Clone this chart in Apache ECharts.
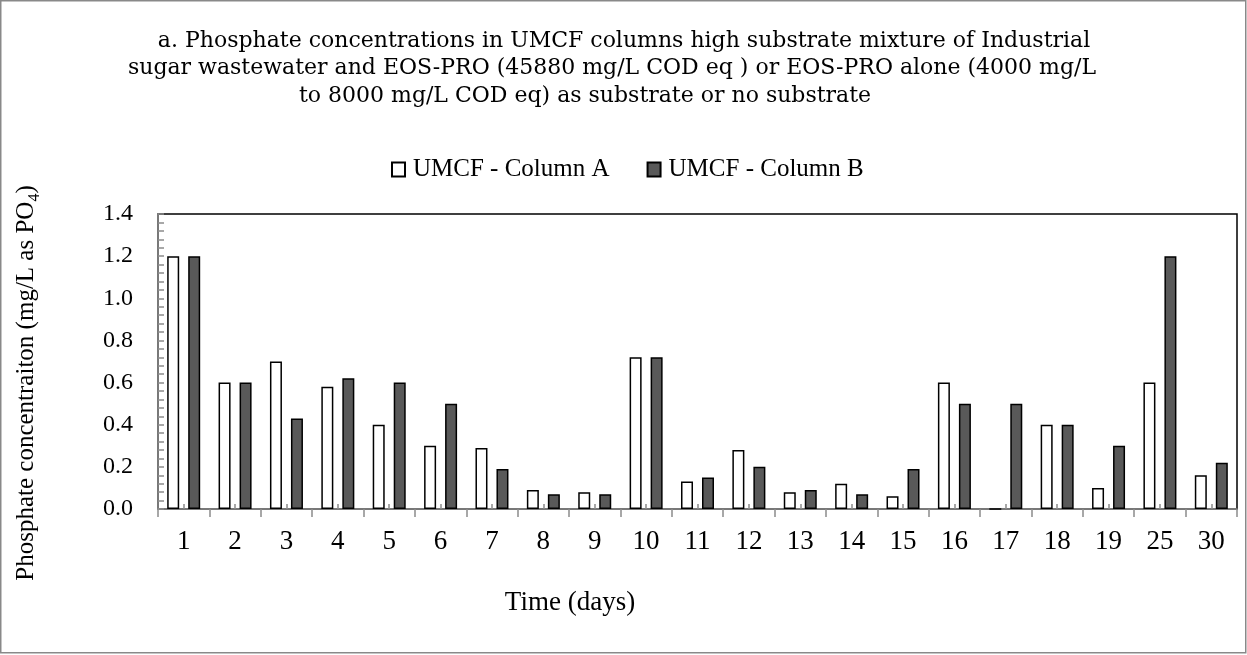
<!DOCTYPE html>
<html>
<head>
<meta charset="utf-8">
<script src="https://cdn.jsdelivr.net/npm/echarts@6/dist/echarts.min.js"></script>
<style>html,body{margin:0;padding:0;background:#fff;}#c{width:1247px;height:655px;}</style>
</head>
<body>
<div id="c"></div>
<script>
const days = ['1','2','3','4','5','6','7','8','9','10','11','12','13','14','15','16','17','18','19','25','30'];
const columnA = [1.20,0.60,0.70,0.58,0.40,0.30,0.29,0.09,0.08,0.72,0.13,0.28,0.08,0.12,0.06,0.60,0,0.40,0.10,0.60,0.16];
const columnB = [1.20,0.60,0.43,0.62,0.60,0.50,0.19,0.07,0.07,0.72,0.15,0.20,0.09,0.07,0.19,0.50,0.50,0.40,0.30,1.20,0.22];
const yTicks = [0,0.2,0.4,0.6,0.8,1.0,1.2,1.4];
const titleLines = [
  'a. Phosphate concentrations in UMCF columns high substrate mixture of Industrial',
  'sugar wastewater and EOS-PRO (45880 mg/L COD eq ) or EOS-PRO alone (4000 mg/L',
  'to 8000 mg/L COD eq) as substrate or no substrate'
];
const seriesNames = ['UMCF - Column A','UMCF - Column B'];

const FONT = '"Liberation Serif", "DejaVu Serif", serif';
const TFONT = '"DejaVu Serif", serif';
const chart = echarts.init(document.getElementById('c'), null, {renderer:'canvas'});
const titleX = [624, 612, 585];
const titleTop = [30, 57, 85];
chart.setOption({
  animation: false,
  backgroundColor: '#fff',
  title: titleLines.map((t,i)=>({
    text: t, left: titleX[i], top: titleTop[i], textAlign: 'center', padding: 0,
    textStyle: {fontFamily: TFONT, fontSize: 22, fontWeight: 'normal', color: '#000'}
  })),
  legend: {
    left: 391, top: 157, padding: 0, itemWidth: 13, itemHeight: 14, itemGap: 37, icon: 'rect',
    textStyle: {fontFamily: FONT, fontSize: 25, color: '#000', padding: [0,0,0,3]},
    data: seriesNames
  },
  grid: {left: 158, right: 10, top: 214, bottom: 146, show: true, borderColor: '#000', borderWidth: 1.5, backgroundColor: 'transparent'},
  xAxis: [{
    type: 'category', data: days, boundaryGap: true,
    axisLine: {lineStyle: {color: '#8c8c8c', width: 1.5}},
    axisTick: {show: true, inside: false, length: 8, lineStyle: {color: '#8c8c8c', width: 1.5}},
    axisLabel: {fontFamily: FONT, fontSize: 27, color: '#000', margin: 19, interval: 0}
  },{
    type: 'category', data: days, boundaryGap: true, position: 'bottom', offset: 0,
    axisLine: {show: false},
    axisTick: {show: true, inside: true, alignWithLabel: true, length: 5, lineStyle: {color: '#8c8c8c', width: 1.5}},
    axisLabel: {show: false}
  }],
  yAxis: {
    type: 'value', min: yTicks[0], max: yTicks[yTicks.length-1], interval: 0.2,
    axisLine: {show: true, lineStyle: {color: '#8c8c8c', width: 1.5}},
    axisTick: {show: true, inside: true, length: 6, lineStyle: {color: '#8c8c8c', width: 1.5}},
    minorTick: {show: true, splitNumber: 5, length: 6, lineStyle: {color: '#8c8c8c', width: 1.5}},
    splitLine: {show: false},
    axisLabel: {fontFamily: FONT, fontSize: 24, color: '#000', margin: 25, formatter: v => v.toFixed(1)}
  },
  graphic: [
    {type: 'rect', shape: {x: 0.75, y: 0.75, width: 1245, height: 652}, style: {fill: 'none', stroke: '#898989', lineWidth: 1.5}, silent: true},
    {type: 'text', x: 570, y: 603, style: {text: 'Time (days)', font: '27px ' + FONT, fill: '#000', align: 'center', verticalAlign: 'middle'}},
    {type: 'text', x: 26, y: 383, rotation: Math.PI/2, style: {
      text: '{a|Phosphate concentraiton (mg/L as PO}{s|4}{a|)}', align: 'center', verticalAlign: 'middle', fill: '#000',
      rich: {a: {fontFamily: FONT, fontSize: 25, fill: '#000', verticalAlign: 'bottom'}, s: {fontFamily: FONT, fontSize: 16, fill: '#000', verticalAlign: 'bottom', padding: [0,0,-4,0]}}
    }}
  ],
  series: [{
    name: seriesNames[0], type: 'bar', data: columnA, barWidth: 12, barGap: '75%',
    itemStyle: {color: '#ffffff', borderColor: '#000', borderWidth: 1.5}
  },{
    name: seriesNames[1], type: 'bar', data: columnB, barWidth: 12, barGap: '75%',
    itemStyle: {color: '#595959', borderColor: '#000', borderWidth: 1.5}
  }]
});
</script>
</body>
</html>
